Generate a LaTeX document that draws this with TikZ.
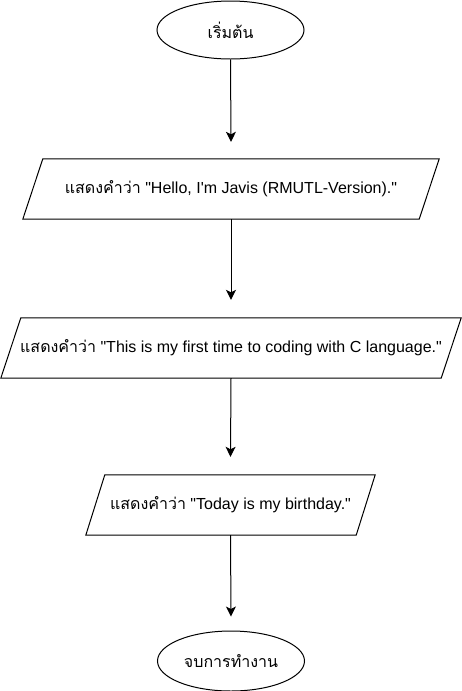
\documentclass[tikz,border=0pt]{standalone}
\usepackage{fontspec}
\newfontfamily\lat{Liberation Sans}
\newfontfamily\thai[Script=Thai]{Loma}
\usetikzlibrary{arrows.meta,shapes.geometric}
\begin{document}
\begin{tikzpicture}[x=1pt,y=-1pt,
  txt/.style={font=\fontsize{16}{19}\selectfont\lat},
  term/.style={ellipse,draw,line width=1pt,minimum width=147pt,minimum height=58pt,inner sep=0pt,txt},
  io/.style={rectangle,minimum height=60pt,inner sep=0pt,txt},
  para/.style={draw,line width=1pt,line join=miter},
  arr/.style={draw,line width=1pt,-{Stealth[length=10pt,width=10pt,inset=2.5pt]}}]
\useasboundingbox (0,0) rectangle (462,691);
\node[term] (s) at (230.5,30) {\thai เริ่มต้น};
\node[io,minimum width=396pt] (p1) at (231,189) {{\thai แสดงคำว่า} "Hello, I'm Javis (RMUTL-Version)."};
\node[io,minimum width=440pt] (p2) at (231,348) {{\thai แสดงคำว่า} "This is my first time to coding with C language."};
\node[io,minimum width=270pt] (p3) at (230.5,505) {{\thai แสดงคำว่า} "Today is my birthday."};
\node[term,minimum height=60pt] (e) at (231,661) {\thai จบการทำงาน};
\foreach \n/\k in {p1/10,p2/10,p3/9.5}{
  \draw[para] ([xshift=\k pt]\n.north west) -- ([xshift=\k pt]\n.north east)
    -- ([xshift=-\k pt]\n.south east) -- ([xshift=-\k pt]\n.south west) -- cycle;
}
\draw[arr] (s.south) -- ([yshift=17pt]p1.north);
\draw[arr] (p1.south) -- ([yshift=18pt]p2.north);
\draw[arr] (p2.south) -- ([yshift=18pt]p3.north);
\draw[arr] (p3.south) -- ([yshift=14pt]e.north);
\end{tikzpicture}
\end{document}
